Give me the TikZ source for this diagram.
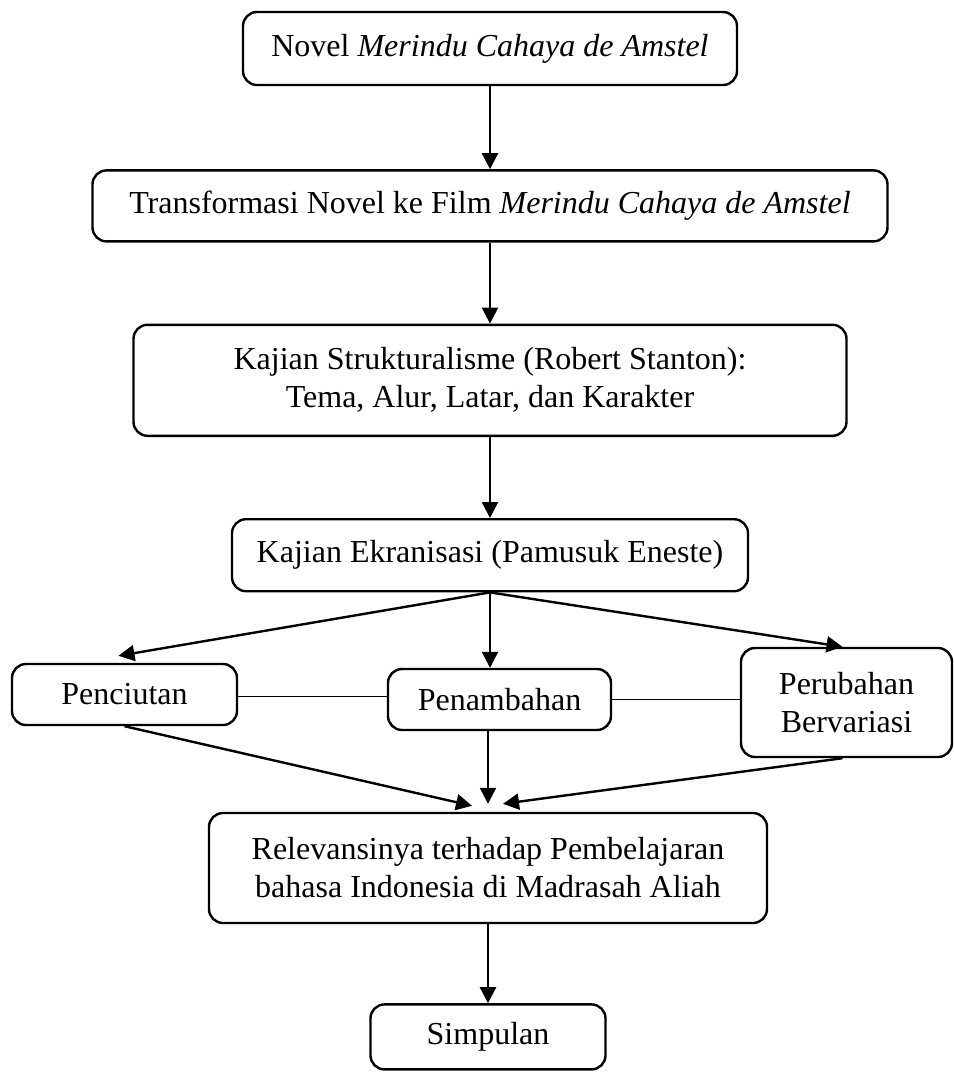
\documentclass[tikz,border=0pt]{standalone}
\usepackage{fontspec}
\setmainfont{Liberation Serif}
\usetikzlibrary{arrows.meta, positioning}

\begin{document}
\begin{tikzpicture}[
      x=0.5pt, y=-0.5pt,
      every node/.style={font=\fontsize{16}{19}\selectfont},
      kotak/.style={draw, line width=1.2pt, rounded corners=7pt, align=center, inner sep=2pt},
      arr/.style={-{Triangle[length=8pt, width=8pt]}, line width=1.2pt},
      hub/.style={line width=0.6pt}
    ]
    \useasboundingbox (0,0) rectangle (954,1072);
    % alur utama
    \node[kotak, minimum width=247pt, minimum height=36.5pt] (novel) at (490,48.5)
         {Novel \textit{Merindu Cahaya de Amstel}};
    \node[kotak, minimum width=397.5pt, minimum height=35.5pt, below=41.5pt of novel] (transf)
         {Transformasi Novel ke Film \textit{Merindu Cahaya de Amstel}};
    \node[kotak, minimum width=356.5pt, minimum height=55.5pt, below=40.5pt of transf] (struk)
         {Kajian Strukturalisme (Robert Stanton):\\ Tema, Alur, Latar, dan Karakter};
    \node[kotak, minimum width=258pt, minimum height=36pt, below=40.5pt of struk] (ekran)
         {Kajian Ekranisasi (Pamusuk Eneste)};
    % tiga bentuk ekranisasi
    \node[kotak, minimum width=112.5pt, minimum height=30.5pt] (ciut) at (124.5,694.5) {Penciutan};
    \node[kotak, minimum width=111.5pt, minimum height=30.5pt] (tambah) at (499.5,699.5) {Penambahan};
    \node[kotak, minimum width=105.5pt, minimum height=54.5pt] (ubah) at (846.5,702.5)
         {Perubahan\\ Bervariasi};
    \node[kotak, minimum width=279pt, minimum height=55pt] (relev) at (488,868)
         {Relevansinya terhadap Pembelajaran\\ bahasa Indonesia di Madrasah Aliah};
    \node[kotak, minimum width=117.5pt, minimum height=32.5pt, below=39.5pt of relev] (simpul) {Simpulan};

    \draw[arr] (novel) -- (transf);
    \draw[arr] (transf) -- (struk);
    \draw[arr] (struk) -- (ekran);
    \draw[arr] (ekran.south) -- ([xshift=-3pt, yshift=3.5pt]ciut.north);
    \draw[arr] (ekran.south) -- (ekran.south |- tambah.north);
    \draw[arr] (ekran.south) -- ([xshift=-2pt]ubah.north);
    \draw[hub] ([yshift=-1pt]ciut.east) -- ([yshift=-1pt]ciut.east -| tambah.west);
    \draw[hub] (tambah.east) -- (tambah.east -| ubah.west);
    \draw[arr] (ciut.south) -- ([xshift=-8pt, yshift=3pt]relev.north);
    \draw[arr] (tambah.south -| relev.north) -- ([yshift=4pt]relev.north);
    \draw[arr] ([xshift=-2pt]ubah.south) -- ([xshift=7.5pt, yshift=4pt]relev.north);
    \draw[arr] (relev) -- (simpul);
  \end{tikzpicture}
\end{document}
